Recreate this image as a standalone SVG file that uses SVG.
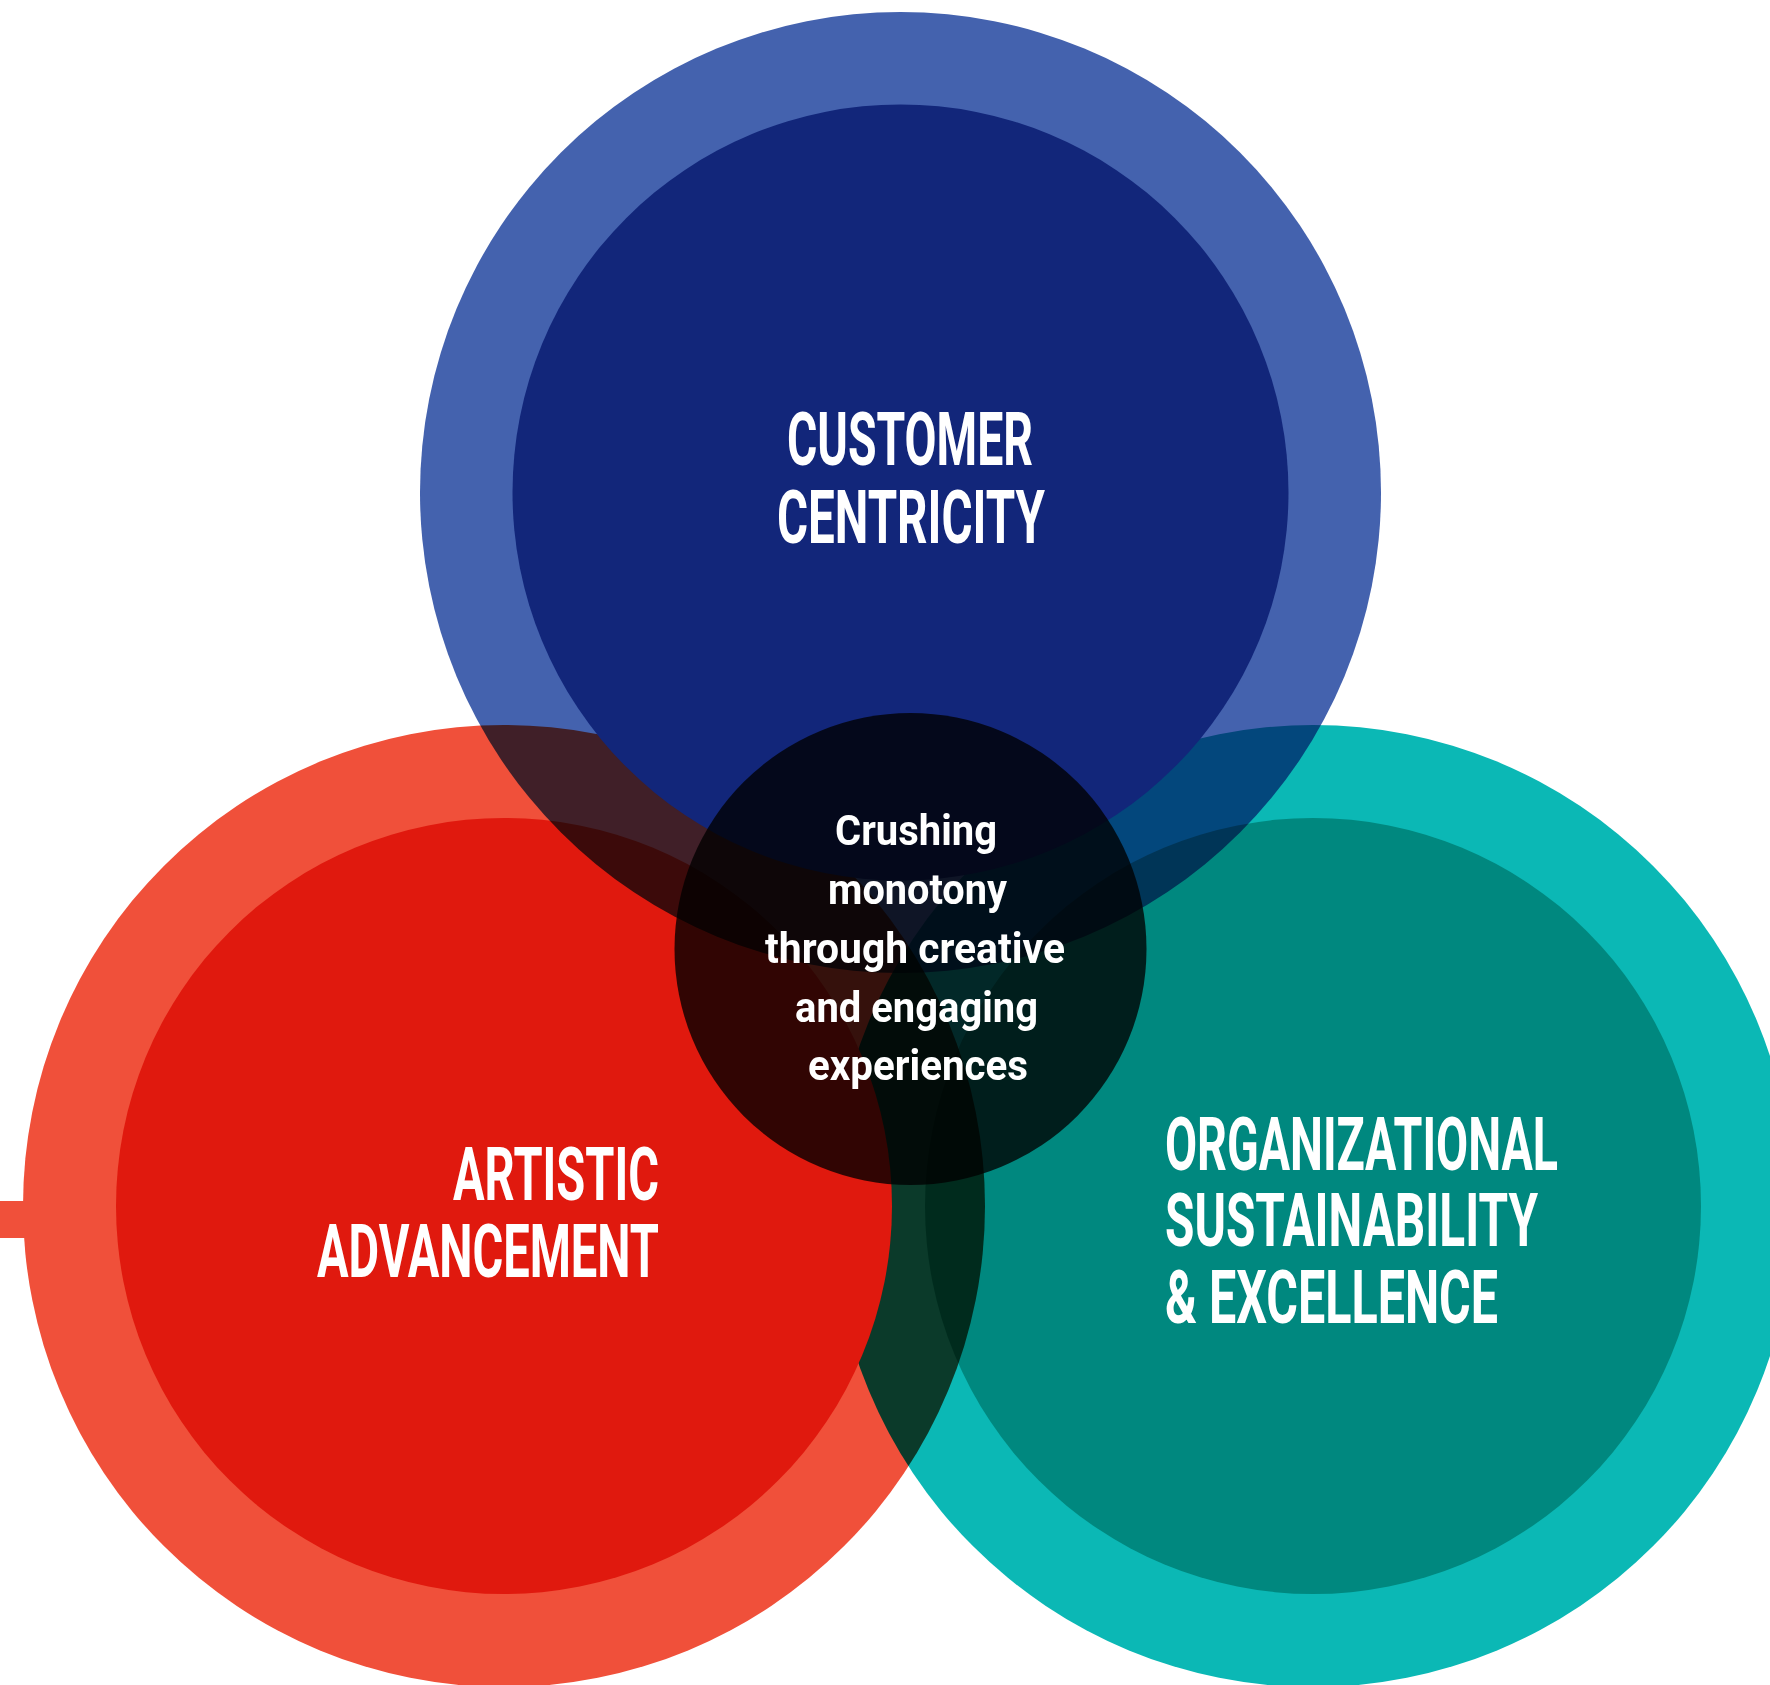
<svg xmlns="http://www.w3.org/2000/svg" width="1770" height="1685" viewBox="0 0 1770 1685">
<style>
.mul{mix-blend-mode:multiply}
.big{font-family:Roboto,"DejaVu Sans Condensed","Liberation Sans",sans-serif;font-weight:bold;font-size:74px;fill:#ffffff}
.mid{font-family:Roboto,"DejaVu Sans Condensed","Liberation Sans",sans-serif;font-weight:bold;font-size:43px;fill:#ffffff}
</style>
<rect width="1770" height="1685" fill="#ffffff"/>
<g id="node-organizational">
<circle cx="1313" cy="1206" r="481" fill="#0BB8B5"/>
<circle cx="1313" cy="1206" r="388" fill="#00887F"/>
</g>
<g id="node-artistic">
<circle class="mul" cx="504" cy="1206" r="481" fill="#F0503A"/>
<circle cx="504" cy="1206" r="388" fill="#E0190E"/>
</g>
<g id="connectors">
<rect x="0" y="1201" width="34" height="37" fill="#F0503A"/>
</g>
<g id="node-customer">
<circle class="mul" cx="900.5" cy="492.5" r="480.5" fill="#4462AE"/>
<circle cx="900.5" cy="492.5" r="388" fill="#12267A"/>
</g>
<g id="node-center">
<circle cx="910.5" cy="949" r="236" fill="#000000" fill-opacity="0.78"/>
</g>
<g id="labels">
<text class="big" x="787" y="465" textLength="246" lengthAdjust="spacingAndGlyphs">CUSTOMER</text>
<text class="big" x="777" y="543" textLength="268" lengthAdjust="spacingAndGlyphs">CENTRICITY</text>
<text class="big" x="453" y="1200" textLength="206" lengthAdjust="spacingAndGlyphs">ARTISTIC</text>
<text class="big" x="317" y="1277" textLength="342" lengthAdjust="spacingAndGlyphs">ADVANCEMENT</text>
<text class="big" x="1165" y="1170" textLength="393" lengthAdjust="spacingAndGlyphs">ORGANIZATIONAL</text>
<text class="big" x="1165" y="1246" textLength="373" lengthAdjust="spacingAndGlyphs">SUSTAINABILITY</text>
<text class="big" x="1165" y="1323" textLength="333" lengthAdjust="spacingAndGlyphs">&amp; EXCELLENCE</text>
<text class="mid" x="835" y="845" textLength="162" lengthAdjust="spacingAndGlyphs">Crushing</text>
<text class="mid" x="828" y="904" textLength="179" lengthAdjust="spacingAndGlyphs">monotony</text>
<text class="mid" x="765" y="963" textLength="300" lengthAdjust="spacingAndGlyphs">through creative</text>
<text class="mid" x="795" y="1022" textLength="243" lengthAdjust="spacingAndGlyphs">and engaging</text>
<text class="mid" x="808" y="1080" textLength="220" lengthAdjust="spacingAndGlyphs">experiences</text>
</g>
</svg>
